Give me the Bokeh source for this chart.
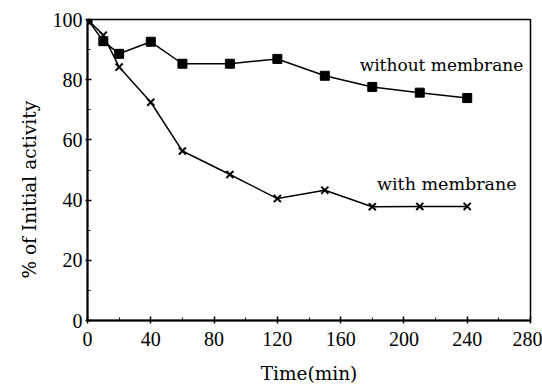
from bokeh.plotting import figure
from bokeh.embed import file_html
from bokeh.resources import INLINE
from bokeh.models import Range1d, FixedTicker, Label, Title

time_min = [0, 10, 20, 40, 60, 90, 120, 150, 180, 210, 240]
without_membrane = [100, 92.8, 88.6, 92.6, 85.3, 85.3, 86.9, 81.3, 77.6, 75.7, 73.9]
with_membrane = [100, 94.8, 84.2, 72.5, 56.3, 48.5, 40.5, 43.3, 37.8, 37.9, 37.9]
x_ticks = [0, 40, 80, 120, 160, 200, 240, 280]
y_ticks = [0, 20, 40, 60, 80, 100]
x_minor = [20, 60, 100, 140, 180, 220, 260]
y_minor = [10, 30, 50, 70, 90]

TICK_FONT = "Liberation Serif"
TEXT_FONT = "DejaVu Serif"

p = figure(width=542, height=386, output_backend="svg", toolbar_location=None,
           x_range=Range1d(0, 280), y_range=Range1d(0, 100),
           min_border_left=87, min_border_right=12, min_border_top=19, min_border_bottom=66)
p.grid.visible = False
p.outline_line_color = "black"
p.outline_line_width = 1.5
p.background_fill_color = "white"
p.border_fill_color = "white"

for ax in (p.xaxis[0], p.yaxis[0]):
    ax.axis_line_width = 2
    ax.axis_line_color = "black"
    ax.major_tick_line_color = "black"
    ax.minor_tick_line_color = "black"
    ax.major_tick_line_width = 1.5
    ax.major_tick_in = 4
    ax.major_tick_out = 3
    ax.minor_tick_in = 3
    ax.minor_tick_out = 0
    ax.major_label_text_font = TICK_FONT
    ax.major_label_text_font_size = "20px"
    ax.major_label_text_color = "black"
    ax.axis_label_text_font = TEXT_FONT
    ax.axis_label_text_font_style = "normal"
    ax.axis_label_text_font_size = "18.5px"
    ax.axis_label_text_color = "black"

p.xaxis[0].ticker = FixedTicker(ticks=x_ticks, minor_ticks=x_minor)
p.yaxis[0].ticker = FixedTicker(ticks=y_ticks, minor_ticks=y_minor)
p.xaxis[0].axis_label = "Time(min)"
p.xaxis[0].major_label_standoff = 8
p.yaxis[0].major_label_standoff = 3
p.yaxis[0].major_tick_out = 2
p.xaxis[0].axis_label_standoff = 14

ytitle = Title(text="% of Initial activity", align="left", offset=42,
               text_font=TEXT_FONT, text_font_size="18.5px", text_font_style="normal",
               text_color="black", standoff=20)
p.add_layout(ytitle, "left")

p.line(time_min, without_membrane, line_color="black", line_width=1.5)
p.scatter(time_min, without_membrane, marker="square", size=9, fill_color="black", line_color="black")
p.line(time_min, with_membrane, line_color="black", line_width=1.5)
p.scatter(time_min, with_membrane, marker="x", size=10, line_color="black", line_width=2)

p.add_layout(Label(x=172, y=85, text="without membrane", text_font=TEXT_FONT,
                   text_font_size="17px", text_color="black", text_baseline="middle"))
p.add_layout(Label(x=183, y=45.5, text="with membrane", text_font=TEXT_FONT,
                   text_font_size="17.5px", text_color="black", text_baseline="middle"))

open("out.html", "w").write(file_html(p, INLINE))
